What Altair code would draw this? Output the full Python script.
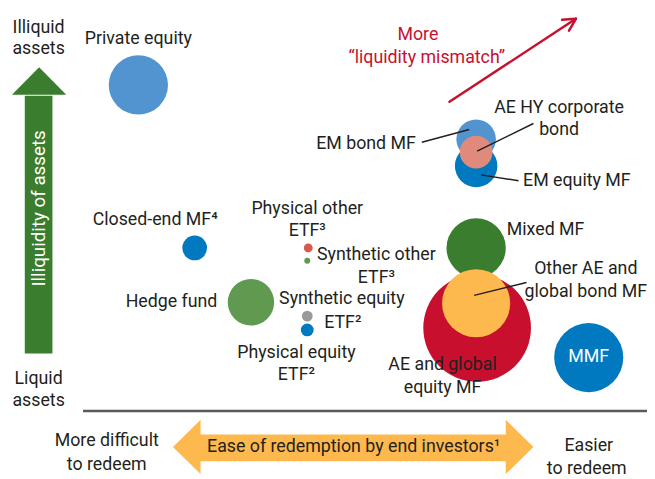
import altair as alt
import pandas as pd

# ---------------- data ----------------
# Bubbles: conceptual position (x = ease of redemption, y = illiquidity, in picture units) and bubble diameter
fund_names = ["Private equity", "Closed-end MF", "Hedge fund", "Physical other ETF",
              "Synthetic other ETF", "Synthetic equity ETF", "Physical equity ETF",
              "EM bond MF", "EM equity MF", "AE HY corporate bond", "Mixed MF",
              "AE and global equity MF", "Other AE and global bond MF", "MMF"]
fund_x = [140, 197, 254, 312, 311, 311, 311, 482, 482, 482, 482, 483, 482, 596]
fund_y = [83, 248, 303, 248, 261, 317, 331, 138, 165, 151, 248, 329, 304, 359]
fund_d = [60, 25, 47, 9, 6, 11, 13, 40, 43, 33, 60, 109, 69, 70]
fund_colors = ["#5294CF", "#0079C1", "#5F9A50", "#D65B4E", "#5F9A50", "#9A9A9A", "#0079C1",
               "#5294CF", "#0079C1", "#E08A7B", "#3A7D2F", "#C8102E", "#FDB94E", "#0079C1"]

# Dark labels
lab_text = ["Illiquid", "assets", "Liquid", "assets", "Private equity", "Closed-end MF\u2074",
            "Physical other", "ETF\u00b3", "Synthetic other", "ETF\u00b3",
            "Synthetic equity", "ETF\u00b2", "Physical equity", "ETF\u00b2",
            "EM bond MF", "AE HY corporate", "bond", "EM equity MF", "Mixed MF",
            "Other AE and", "global bond MF", "AE and global", "equity MF", "Hedge fund",
            "More difficult", "to redeem", "Easier", "to redeem",
            "Ease of redemption by end investors\u00b9"]
lab_x = [39, 39, 39, 39, 140, 157, 311, 311, 381, 381, 346, 347, 300, 300,
         421, 566, 566, 584, 513, 593, 593, 448, 448, 220, 108, 108, 596, 594, 358]
lab_y = [25, 47, 381, 403, 37, 220, 209, 231, 255, 278, 300, 324, 354, 377,
         143, 106, 129, 180, 230, 269, 293, 367, 390, 303, 444, 468, 449, 472, 450]
lab_align = ["center"] * 14 + ["right", "center", "center", "center", "left",
                               "center", "center", "center", "center", "right",
                               "center", "center", "center", "center", "center"]

# Red "liquidity mismatch" label
red_text = ["More", "\u201cliquidity mismatch\u201d"]
red_x = [423, 432]
red_y = [32, 56]

# Leader lines (from label to bubble)
lead_x = [427, 540, 525, 533]
lead_y = [141, 122, 180, 283]
lead_x2 = [475, 483, 487, 480]
lead_y2 = [128, 150, 174, 296]

# Red diagonal arrow: shaft + two head strokes
red_x1 = [455, 583, 583]
red_y1 = [100, 16, 16]
red_x2 = [583, 569, 576]
red_y2 = [16, 17, 28]

# Horizontal baseline
base_x, base_x2, base_y = [84], [655], [413]

# Green vertical arrow (illiquidity of assets)
g_shaft = dict(x=[25], x2=[53], y=[94], y2=[355])
g_head_y = [93, 65]
g_head_x = [12, 39.5]
g_head_x2 = [67, 39.5]

# Orange double arrow (ease of redemption)
o_shaft = dict(x=[202], x2=[513], y=[437], y2=[464])
o_head_part = ["L", "L", "R", "R"]
o_head_x = [175, 203, 512, 540]
o_head_y = [449.5, 422, 422, 449.5]
o_head_y2 = [449.5, 477, 477, 449.5]

# ---------------- chart ----------------
W, H = 647, 471
FONT = "Roboto, Liberation Sans, sans-serif"
FS = 18
DARK = "#231F20"
xs = alt.Scale(domain=[8, 8 + W], nice=False, zero=False)
ys = alt.Scale(domain=[8, 8 + H], nice=False, zero=False, reverse=True)


def X(f="x"):
    return alt.X(f"{f}:Q", scale=xs, axis=None)


def Y(f="y"):
    return alt.Y(f"{f}:Q", scale=ys, axis=None)


layers = []

# baseline
layers.append(alt.Chart(pd.DataFrame({"x": base_x, "x2": base_x2, "y": base_y}))
              .mark_rule(color="#58595B", strokeWidth=2.5)
              .encode(x=X(), x2="x2:Q", y=Y()))

# green arrow
layers.append(alt.Chart(pd.DataFrame(g_shaft)).mark_rect(color="#3A7D2F")
              .encode(x=X(), x2="x2:Q", y=Y(), y2="y2:Q"))
layers.append(alt.Chart(pd.DataFrame({"y": g_head_y, "x": g_head_x, "x2": g_head_x2}))
              .mark_area(color="#3A7D2F", orient="horizontal", opacity=1)
              .encode(y=Y(), x=X(), x2="x2:Q"))

# orange arrow
layers.append(alt.Chart(pd.DataFrame(o_shaft)).mark_rect(color="#FDB94E")
              .encode(x=X(), x2="x2:Q", y=Y(), y2="y2:Q"))
layers.append(alt.Chart(pd.DataFrame({"part": o_head_part, "x": o_head_x,
                                      "y": o_head_y, "y2": o_head_y2}))
              .mark_area(color="#FDB94E", orient="vertical", opacity=1)
              .encode(x=X(), y=Y(), y2="y2:Q", detail="part:N"))

# red arrow
layers.append(alt.Chart(pd.DataFrame({"x": red_x1, "y": red_y1, "x2": red_x2, "y2": red_y2}))
              .mark_rule(color="#C8102E", strokeWidth=2.5, strokeCap="round")
              .encode(x=X(), y=Y(), x2="x2:Q", y2="y2:Q"))

# bubbles
bub = pd.DataFrame({"fund": fund_names, "x": fund_x, "y": fund_y, "d": fund_d,
                    "order": list(range(len(fund_names)))})
layers.append(alt.Chart(bub).transform_calculate(area="datum.d * datum.d")
              .mark_circle(opacity=1, strokeWidth=0)
              .encode(x=X(), y=Y(),
                      size=alt.Size("area:Q", scale=None, legend=None),
                      color=alt.Color("fund:N", scale=alt.Scale(domain=fund_names, range=fund_colors),
                                      legend=None),
                      order=alt.Order("order:Q")))

# leader lines
layers.append(alt.Chart(pd.DataFrame({"x": lead_x, "y": lead_y, "x2": lead_x2, "y2": lead_y2}))
              .mark_rule(color=DARK, strokeWidth=1.5)
              .encode(x=X(), y=Y(), x2="x2:Q", y2="y2:Q"))

# dark labels
labs = pd.DataFrame({"t": lab_text, "x": lab_x, "y": lab_y, "a": lab_align})
for a in ["center", "left", "right"]:
    layers.append(alt.Chart(labs).transform_filter(alt.datum.a == a)
                  .mark_text(align=a, baseline="middle", font=FONT, fontSize=FS, color=DARK)
                  .encode(x=X(), y=Y(), text="t:N"))

# white labels
layers.append(alt.Chart(pd.DataFrame({"t": ["Illiquidity of assets"], "x": [39], "y": [208]}))
              .mark_text(align="center", baseline="middle", font=FONT, fontSize=FS + 1,
                         color="white", angle=270)
              .encode(x=X(), y=Y(), text="t:N"))
layers.append(alt.Chart(pd.DataFrame({"t": ["MMF"], "x": [596], "y": [358]}))
              .mark_text(align="center", baseline="middle", font=FONT, fontSize=FS, color="white")
              .encode(x=X(), y=Y(), text="t:N"))

# red labels
layers.append(alt.Chart(pd.DataFrame({"t": red_text, "x": red_x, "y": red_y}))
              .mark_text(align="center", baseline="middle", font=FONT, fontSize=FS, color="#C8102E")
              .encode(x=X(), y=Y(), text="t:N"))

chart = (alt.layer(*layers)
         .properties(width=W, height=H, padding=0, autosize=alt.AutoSizeParams(type="none"))
         .configure_view(stroke=None))

chart.save("out.html", embed_options={"renderer": "svg", "actions": False})
